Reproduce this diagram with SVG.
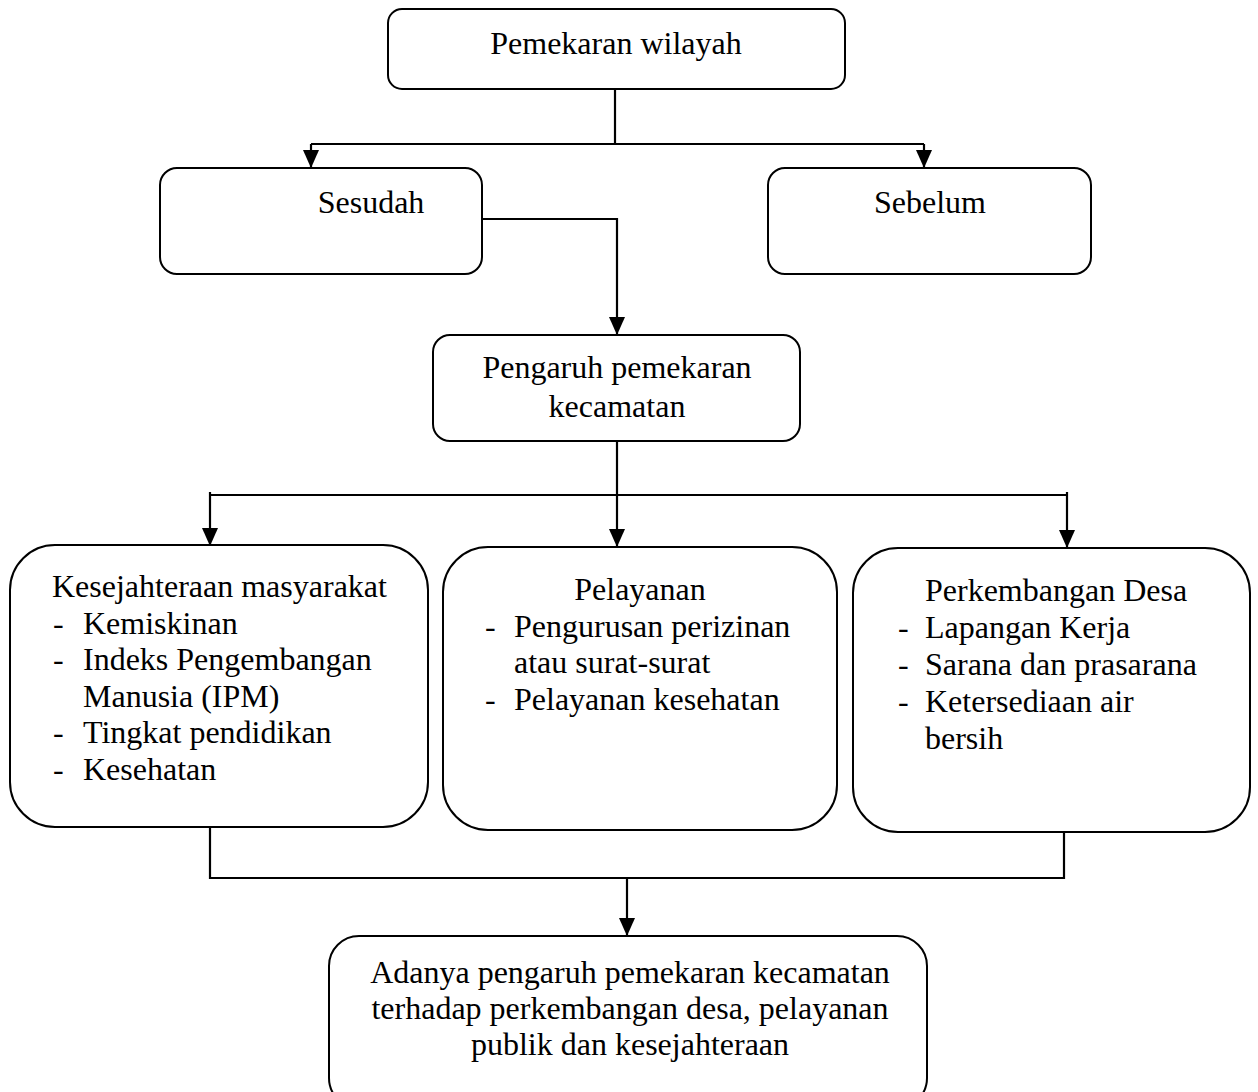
<svg xmlns="http://www.w3.org/2000/svg" width="1258" height="1092" viewBox="0 0 1258 1092">
<style>
.box{fill:#fff;stroke:#000;stroke-width:2}
.t{font-family:"Liberation Serif","Times New Roman",serif;font-size:32px;fill:#000}
.c{text-anchor:middle}
.ln{fill:none;stroke:#000;stroke-width:2.2}
</style>
<defs>
<marker id="ah" markerUnits="userSpaceOnUse" markerWidth="18" markerHeight="16" refX="18" refY="8" orient="auto">
<path d="M0,0 L18,8 L0,16 z" fill="#000"/>
</marker>
</defs>
<rect width="1258" height="1092" fill="#fff"/>
<g id="connectors">
<path class="ln" d="M615,89 V144"/>
<path class="ln" d="M311,144 H924"/>
<path class="ln" d="M311,144 V168" marker-end="url(#ah)"/>
<path class="ln" d="M924,144 V168" marker-end="url(#ah)"/>
<path class="ln" d="M482,219 H617 V335" marker-end="url(#ah)"/>
<path class="ln" d="M617,441 V547" marker-end="url(#ah)"/>
<path class="ln" d="M210,495 H1067"/>
<path class="ln" d="M210,492 V546" marker-end="url(#ah)"/>
<path class="ln" d="M1067,492 V548" marker-end="url(#ah)"/>
<path class="ln" d="M210,827 V878 H1064 V832"/>
<path class="ln" d="M627,878 V936" marker-end="url(#ah)"/>
</g>
<g id="pemekaran">
<rect class="box" x="388" y="9" width="457" height="80" rx="14"/>
<text class="t c" x="616" y="54">Pemekaran wilayah</text>
</g>
<g id="sesudah">
<rect class="box" x="160" y="168" width="322" height="106" rx="17"/>
<text class="t c" x="371" y="213">Sesudah</text>
</g>
<g id="sebelum">
<rect class="box" x="768" y="168" width="323" height="106" rx="17"/>
<text class="t c" x="930" y="213">Sebelum</text>
</g>
<g id="pengaruh">
<rect class="box" x="433" y="335" width="367" height="106" rx="17"/>
<text class="t c" x="617" y="378">Pengaruh pemekaran</text>
<text class="t c" x="617" y="417">kecamatan</text>
</g>
<g id="kesejahteraan">
<rect class="box" x="10" y="545" width="418" height="282" rx="45"/>
<text class="t" x="52" y="597">Kesejahteraan masyarakat</text>
<text class="t" x="53" y="634">-</text><text class="t" x="83" y="634">Kemiskinan</text>
<text class="t" x="53" y="670">-</text><text class="t" x="83" y="670">Indeks Pengembangan</text>
<text class="t" x="83" y="707">Manusia (IPM)</text>
<text class="t" x="53" y="743">-</text><text class="t" x="83" y="743">Tingkat pendidikan</text>
<text class="t" x="53" y="780">-</text><text class="t" x="83" y="780">Kesehatan</text>
</g>
<g id="pelayanan">
<rect class="box" x="443" y="547" width="394" height="283" rx="45"/>
<text class="t c" x="640" y="600">Pelayanan</text>
<text class="t" x="485" y="637">-</text><text class="t" x="514" y="637">Pengurusan perizinan</text>
<text class="t" x="514" y="673">atau surat-surat</text>
<text class="t" x="485" y="710">-</text><text class="t" x="514" y="710">Pelayanan kesehatan</text>
</g>
<g id="perkembangan">
<rect class="box" x="853" y="548" width="397" height="284" rx="45"/>
<text class="t" x="925" y="601">Perkembangan Desa</text>
<text class="t" x="898" y="638">-</text><text class="t" x="925" y="638">Lapangan Kerja</text>
<text class="t" x="898" y="675">-</text><text class="t" x="925" y="675">Sarana dan prasarana</text>
<text class="t" x="898" y="712">-</text><text class="t" x="925" y="712">Ketersediaan air</text>
<text class="t" x="925" y="749">bersih</text>
</g>
<g id="hasil">
<rect class="box" x="329" y="936" width="598" height="172" rx="30"/>
<text class="t c" x="630" y="983">Adanya pengaruh pemekaran kecamatan</text>
<text class="t c" x="630" y="1019">terhadap perkembangan desa, pelayanan</text>
<text class="t c" x="630" y="1055">publik dan kesejahteraan</text>
</g>
</svg>
